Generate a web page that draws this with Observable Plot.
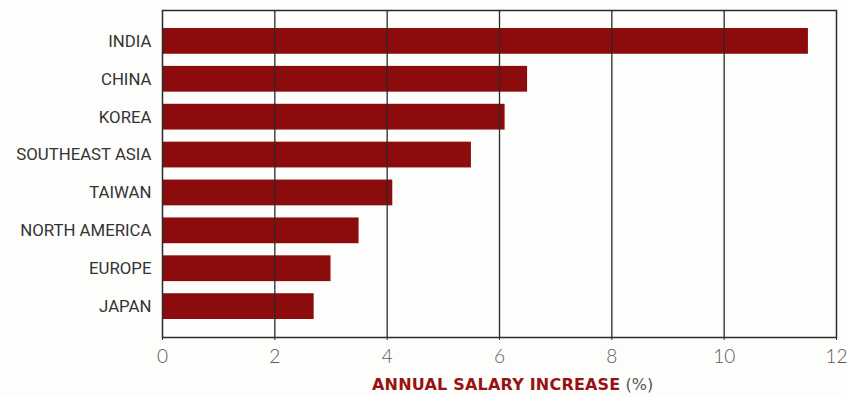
<!DOCTYPE html>
<html>
<head>
<meta charset="utf-8">
<script src="https://cdn.jsdelivr.net/npm/d3@7"></script>
<script src="https://cdn.jsdelivr.net/npm/@observablehq/plot@0.6"></script>
<style>
  html, body { margin: 0; padding: 0; background: #fdfdfb; }
  #chart { width: 847px; }
  #xtitle {
    font-family: "DejaVu Sans", sans-serif;
    font-size: 16px;
    line-height: 20px;
    padding-left: 372px;
    margin-top: 3px;
    white-space: nowrap;
  }
  #xtitle b { color: #981212; font-weight: bold; letter-spacing: 0.2px; }
  #xtitle span { color: #555; font-weight: normal; }
</style>
</head>
<body>
<div id="chart"></div>
<div id="xtitle"><b>ANNUAL SALARY INCREASE</b> <span>(%)</span></div>
<script>
const countries = ["INDIA", "CHINA", "KOREA", "SOUTHEAST ASIA", "TAIWAN", "NORTH AMERICA", "EUROPE", "JAPAN"];
const increases = [11.5, 6.5, 6.1, 5.5, 4.1, 3.5, 3.0, 2.7];
const xTicks = [0, 2, 4, 6, 8, 10, 12];
const gridLines = [2, 4, 6, 8, 10];

const data = countries.map((c, i) => ({country: c, value: increases[i]}));

const chart = Plot.plot({
  width: 847,
  height: 372,
  marginLeft: 162,
  marginRight: 11,
  marginTop: 10,
  marginBottom: 35,
  style: {background: "transparent", overflow: "visible"},
  x: {domain: [0, 12], ticks: xTicks, label: null},
  y: {domain: countries, paddingInner: 0.32, paddingOuter: 0.475, round: false, label: null},
  marks: [
    Plot.barX(data, {x: "value", y: "country", fill: "#8c0b0c"}),
    Plot.ruleX(gridLines, {stroke: "#2a2a2a", strokeWidth: 1.3}),
    Plot.frame({stroke: "#2a2a2a", strokeWidth: 1.5}),
    Plot.axisX({ticks: xTicks, tickSize: 3, tickPadding: 9, stroke: "#2a2a2a",
      fontSize: 19, fill: "#5a5a5a", fontFamily: "Lato, sans-serif", fontWeight: 300, tickFormat: d => String(d)}),
    Plot.axisY({tickSize: 0, tickPadding: 11, fontSize: 16.8, fill: "#333",
      fontFamily: "Roboto, sans-serif", tickFormat: d => d})
  ]
});
document.getElementById("chart").appendChild(chart);
</script>
</body>
</html>
